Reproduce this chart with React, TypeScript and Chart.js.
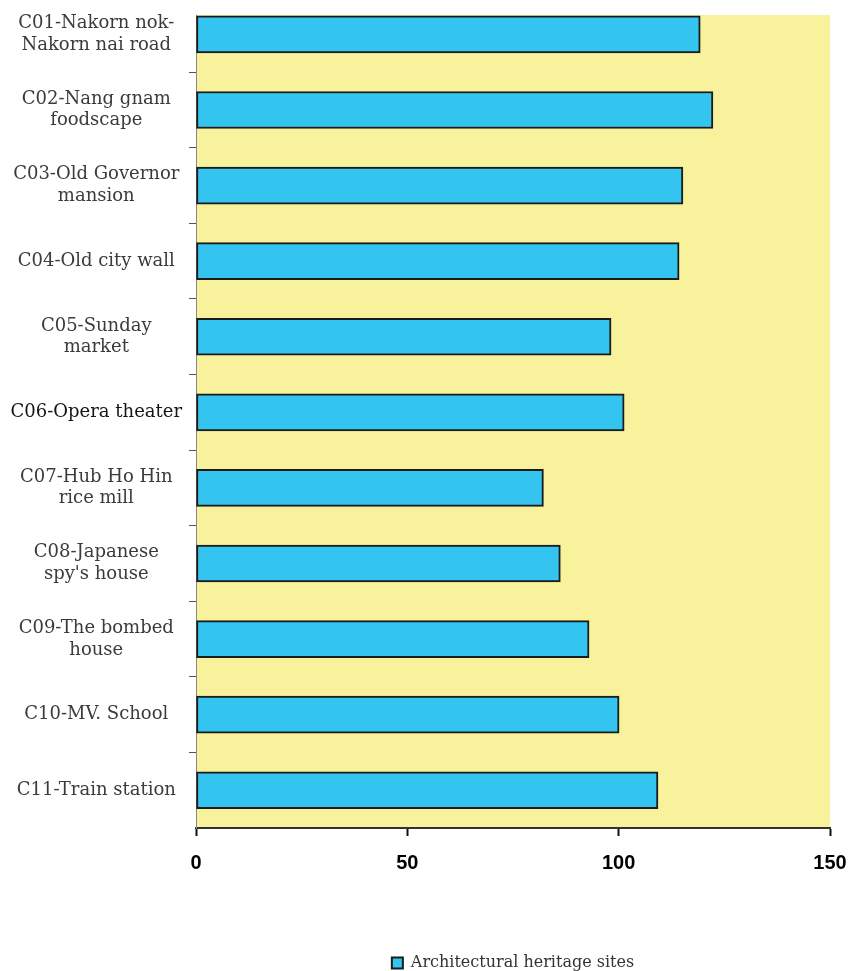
import React, { useEffect, useRef } from 'react';
import { Chart, registerables } from 'chart.js';

Chart.register(...registerables);

// ---- data ----
const categories: (string | string[])[] = [
  ['C01-Nakorn nok-', 'Nakorn nai road'],
  ['C02-Nang gnam', 'foodscape'],
  ['C03-Old Governor', 'mansion'],
  'C04-Old city wall',
  ['C05-Sunday', 'market'],
  'C06-Opera theater',
  ['C07-Hub Ho Hin', 'rice mill'],
  ['C08-Japanese', "spy's house"],
  ['C09-The bombed', 'house'],
  'C10-MV. School',
  'C11-Train station',
];
const values = [119.3, 122.3, 115.2, 114.3, 98.2, 101.3, 82.2, 86.2, 93.0, 100.1, 109.3];
const seriesName = 'Architectural heritage sites';
const xTickValues = [0, 50, 100, 150];

const plotBg = {
  id: 'plotBg',
  beforeDraw(chart: any) {
    const { ctx, chartArea } = chart;
    ctx.save();
    ctx.fillStyle = '#F7F29B';
    ctx.fillRect(chartArea.left, chartArea.top, chartArea.right - chartArea.left, chartArea.bottom - chartArea.top);
    ctx.restore();
  },
};

export default function App() {
  const ref = useRef<HTMLCanvasElement | null>(null);

  useEffect(() => {
    if (!ref.current) return;
    const chart = new Chart(ref.current, {
      type: 'bar',
      data: {
        datasets: [
          {
            label: seriesName,
            data: values.map((v, i) => ({ x: v, y: i })) as any,
            backgroundColor: '#33C4F0',
            borderColor: '#1B1B1B',
            borderWidth: 2,
            borderSkipped: false,
            barThickness: 37,
          },
        ],
      },
      options: {
        indexAxis: 'y',
        animation: false,
        responsive: true,
        maintainAspectRatio: false,
        layout: { padding: { top: 15, right: 19, left: 0, bottom: -10 } },
        plugins: {
          tooltip: { enabled: false },
          legend: {
            position: 'bottom',
            fullSize: false,
            labels: {
              boxWidth: 11,
              boxHeight: 11,
              color: '#333',
              padding: 10,
              font: { family: "'DejaVu Serif', serif", size: 16 },
            },
          },
        },
        scales: {
          x: {
            type: 'linear',
            position: 'bottom',
            min: 0,
            max: 150,
            offset: false,
            afterBuildTicks: (scale: any) => {
              scale.ticks = xTickValues.map((v) => ({ value: v }));
            },
            afterFit: (scale: any) => {
              scale.height = 117;
              scale.paddingLeft = 0;
              scale.paddingRight = 0;
            },
            grid: {
              offset: false,
              drawOnChartArea: false,
              drawTicks: true,
              tickLength: 8,
              tickColor: '#111',
              tickWidth: 2,
            },
            border: { display: true, color: '#333', width: 2 },
            ticks: {
              padding: 15,
              color: '#000',
              font: { family: "'Liberation Sans', Arial, sans-serif", size: 20, weight: 'bold' },
            },
          },
          y: {
            type: 'linear',
            position: 'left',
            reverse: true,
            offset: false,
            min: -0.257,
            max: 10.5,
            afterBuildTicks: (scale: any) => {
              const t: any[] = [];
              for (let i = 0; i < categories.length; i++) {
                t.push({ value: i });
                if (i < categories.length - 1) t.push({ value: i + 0.5 });
              }
              scale.ticks = t;
            },
            afterFit: (scale: any) => {
              scale.width = 196;
              scale.paddingTop = 0;
              scale.paddingBottom = 0;
            },
            grid: {
              offset: false,
              drawOnChartArea: false,
              drawTicks: true,
              tickLength: 7,
              tickColor: (ctx: any) =>
                ctx.tick && Number.isInteger(ctx.tick.value) ? 'rgba(0,0,0,0)' : '#555',
              tickWidth: 1,
            },
            border: { display: true, color: '#888', width: 1 },
            ticks: {
              autoSkip: false,
              padding: 7,
              crossAlign: 'center',
              color: (ctx: any) =>
                ctx.tick && ctx.tick.value === 5 ? '#151515' : '#3B3B3B',
              font: { family: "'DejaVu Serif', serif", size: 18, lineHeight: 1.2 },
              callback: (v: any) => (Number.isInteger(v) ? (categories[v] as any) : ''),
            },
          },
        },
      } as any,
      plugins: [plotBg],
    });
    return () => chart.destroy();
  }, []);

  return (
    <div style={{ position: 'absolute', left: 0, top: 0, width: 849, height: 971 }}>
      <canvas ref={ref} />
    </div>
  );
}
